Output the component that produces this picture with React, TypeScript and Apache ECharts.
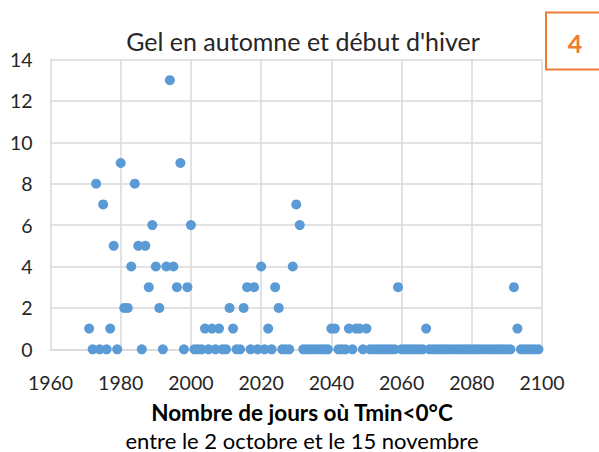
import React, { useEffect, useRef } from "react";
import * as echarts from "echarts";

const years = [
  1971, 1972, 1973, 1974, 1975, 1976, 1977, 1978, 1979, 1980,
  1981, 1982, 1983, 1984, 1985, 1986, 1987, 1988, 1989, 1990,
  1991, 1992, 1993, 1994, 1995, 1996, 1997, 1998, 1999, 2000,
  2001, 2002, 2003, 2004, 2005, 2006, 2007, 2008, 2009, 2010,
  2011, 2012, 2013, 2014, 2015, 2016, 2017, 2018, 2019, 2020,
  2021, 2022, 2023, 2024, 2025, 2026, 2027, 2028, 2029, 2030,
  2031, 2032, 2033, 2034, 2035, 2036, 2037, 2038, 2039, 2040,
  2041, 2042, 2043, 2044, 2045, 2046, 2047, 2048, 2049, 2050,
  2051, 2052, 2053, 2054, 2055, 2056, 2057, 2058, 2059, 2060,
  2061, 2062, 2063, 2064, 2065, 2066, 2067, 2068, 2069, 2070,
  2071, 2072, 2073, 2074, 2075, 2076, 2077, 2078, 2079, 2080,
  2081, 2082, 2083, 2084, 2085, 2086, 2087, 2088, 2089, 2090,
  2091, 2092, 2093, 2094, 2095, 2096, 2097, 2098, 2099,
];

const frostDays = [
  1, 0, 8, 0, 7, 0, 1, 5, 0, 9,
  2, 2, 4, 8, 5, 0, 5, 3, 6, 4,
  2, 0, 4, 13, 4, 3, 9, 0, 3, 6,
  0, 0, 0, 1, 0, 1, 0, 1, 0, 0,
  2, 1, 0, 0, 2, 3, 0, 3, 0, 4,
  0, 1, 0, 3, 2, 0, 0, 0, 4, 7,
  6, 0, 0, 0, 0, 0, 0, 0, 0, 1,
  1, 0, 0, 0, 1, 0, 1, 1, 0, 1,
  0, 0, 0, 0, 0, 0, 0, 0, 3, 0,
  0, 0, 0, 0, 0, 0, 1, 0, 0, 0,
  0, 0, 0, 0, 0, 0, 0, 0, 0, 0,
  0, 0, 0, 0, 0, 0, 0, 0, 0, 0,
  0, 3, 1, 0, 0, 0, 0, 0, 0,
];

const xTicks = [1960, 1980, 2000, 2020, 2040, 2060, 2080, 2100];
const yTicks = [0, 2, 4, 6, 8, 10, 12, 14];

const titleText = "Gel en automne et début d'hiver";
const axisTitle = "Nombre de jours où Tmin<0°C";
const axisSubtitle = "entre le 2 octobre et le 15 novembre";
const badge = "4";

const FONT = "Lato, 'Open Sans', sans-serif";

export default function App() {
  const ref = useRef<HTMLDivElement>(null);
  useEffect(() => {
    if (!ref.current) return;
    const chart = echarts.init(ref.current, undefined, { renderer: "svg" });
    const points = years.map((y, i) => [y, frostDays[i]]);
    chart.setOption({
      animation: false,
      textStyle: { fontFamily: FONT },
      grid: { left: 50.5, right: 57, top: 59.5, bottom: 102.7 },
      xAxis: {
        type: "value",
        min: xTicks[0],
        max: xTicks[xTicks.length - 1],
        interval: 20,
        axisLine: { show: true, lineStyle: { color: "#D9D9D9", width: 1.5 } },
        axisTick: { show: false },
        splitLine: { show: true, lineStyle: { color: "#D9D9D9", width: 1.5 } },
        axisLabel: {
          fontSize: 19.5,
          color: "#262626",
          margin: 23,
          fontFamily: FONT,
          formatter: (v: number) => String(v),
        },
      },
      yAxis: {
        type: "value",
        min: yTicks[0],
        max: yTicks[yTicks.length - 1],
        interval: 2,
        axisLine: { show: false },
        axisTick: { show: false },
        splitLine: { show: true, lineStyle: { color: "#D9D9D9", width: 1.5 } },
        axisLabel: {
          fontSize: 19.5,
          color: "#262626",
          margin: 18,
          fontFamily: FONT,
          formatter: (v: number) => String(v),
        },
      },
      series: [
        {
          type: "scatter",
          data: points,
          symbol: "circle",
          symbolSize: 10,
          itemStyle: { color: "#5B9BD5", opacity: 1 },
        },
      ],
      graphic: [
        {
          type: "text",
          x: 303,
          y: 41,
          style: {
            text: titleText,
            fontSize: 25,
            fontFamily: FONT,
            fill: "#262626",
            align: "center",
            verticalAlign: "middle",
          },
        },
        {
          type: "text",
          x: 302,
          y: 412,
          style: {
            text: axisTitle,
            fontSize: 22.5,
            fontWeight: "bold",
            fontFamily: FONT,
            fill: "#000000",
            align: "center",
            verticalAlign: "middle",
          },
        },
        {
          type: "text",
          x: 302,
          y: 440,
          style: {
            text: axisSubtitle,
            fontSize: 22,
            fontFamily: FONT,
            fill: "#000000",
            align: "center",
            verticalAlign: "middle",
          },
        },
        {
          type: "rect",
          shape: { x: 546, y: 12.5, width: 60, height: 57 },
          style: { fill: "#FFFFFF", stroke: "#ED7D31", lineWidth: 2 },
        },
        {
          type: "text",
          x: 575,
          y: 43,
          style: {
            text: badge,
            fontSize: 25,
            fontWeight: "bold",
            fontFamily: FONT,
            fill: "#ED7D31",
            align: "center",
            verticalAlign: "middle",
          },
        },
      ],
    });
    return () => chart.dispose();
  }, []);
  return <div ref={ref} style={{ width: 599, height: 452, position: "absolute", left: 0, top: 0 }} />;
}
